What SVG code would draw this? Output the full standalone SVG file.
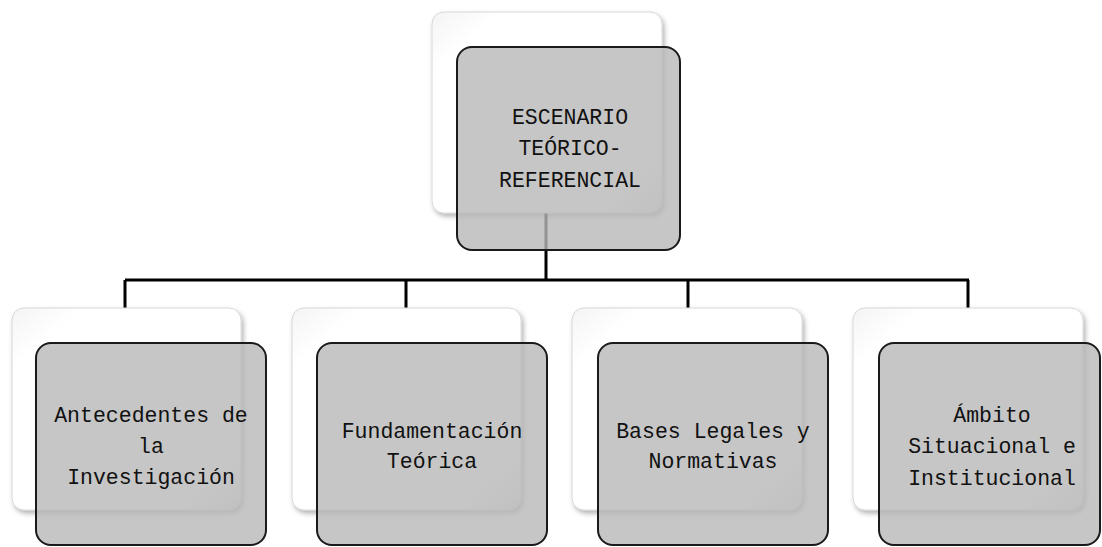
<svg xmlns="http://www.w3.org/2000/svg" width="1102" height="547" viewBox="0 0 1102 547">
<style>
.back{fill:url(#bg);stroke:#d8d8d8;stroke-width:1}
.front{fill:#b8b8b8;fill-opacity:0.8;stroke:#1a1a1a;stroke-width:2}
.lbl{font-family:"Liberation Mono","DejaVu Sans Mono",monospace;font-size:21.5px;fill:#111;text-anchor:middle}
.conn{stroke:#000;stroke-width:3;fill:none}
</style>
<defs>
<linearGradient id="bg" x1="0" y1="0" x2="1" y2="1">
<stop offset="0" stop-color="#f4f4f4"/>
<stop offset="0.15" stop-color="#ffffff"/>
<stop offset="0.85" stop-color="#ffffff"/>
<stop offset="1" stop-color="#e6e6e6"/>
</linearGradient>
<filter id="sh" x="-10%" y="-10%" width="125%" height="125%">
<feDropShadow dx="2" dy="3" stdDeviation="2.5" flood-color="#000" flood-opacity="0.3"/>
</filter>
</defs>
<rect width="1102" height="547" fill="#fff"/>
<g id="connectors">
<path class="conn" d="M546 213 V280 M125 280 H969 M125 280 V309 M406 280 V309 M688 280 V309 M968 280 V309"/>
</g>
<g id="root">
<rect class="back" filter="url(#sh)" x="432" y="12" width="230" height="201" rx="12"/>
<rect class="front" x="457" y="47" width="223" height="203" rx="15"/>
<text class="lbl" x="570" y="124">ESCENARIO</text>
<text class="lbl" x="570" y="155">TEÓRICO-</text>
<text class="lbl" x="570" y="187">REFERENCIAL</text>
</g>
<g id="n1">
<rect class="back" filter="url(#sh)" x="12" y="308" width="229" height="202" rx="12"/>
<rect class="front" x="36" y="343" width="230" height="202" rx="15"/>
<text class="lbl" x="151" y="422">Antecedentes de</text>
<text class="lbl" x="151" y="453">la</text>
<text class="lbl" x="151" y="484">Investigación</text>
</g>
<g id="n2">
<rect class="back" filter="url(#sh)" x="292" y="308" width="229" height="202" rx="12"/>
<rect class="front" x="317" y="343" width="230" height="202" rx="15"/>
<text class="lbl" x="432" y="438">Fundamentación</text>
<text class="lbl" x="432" y="468">Teórica</text>
</g>
<g id="n3">
<rect class="back" filter="url(#sh)" x="572" y="308" width="230" height="202" rx="12"/>
<rect class="front" x="598" y="343" width="230" height="202" rx="15"/>
<text class="lbl" x="713" y="438">Bases Legales y</text>
<text class="lbl" x="713" y="468">Normativas</text>
</g>
<g id="n4">
<rect class="back" filter="url(#sh)" x="853" y="308" width="230" height="202" rx="12"/>
<rect class="front" x="879" y="343" width="221" height="202" rx="15"/>
<text class="lbl" x="992" y="422">Ámbito</text>
<text class="lbl" x="992" y="453">Situacional e</text>
<text class="lbl" x="992" y="485">Institucional</text>
</g>
</svg>
